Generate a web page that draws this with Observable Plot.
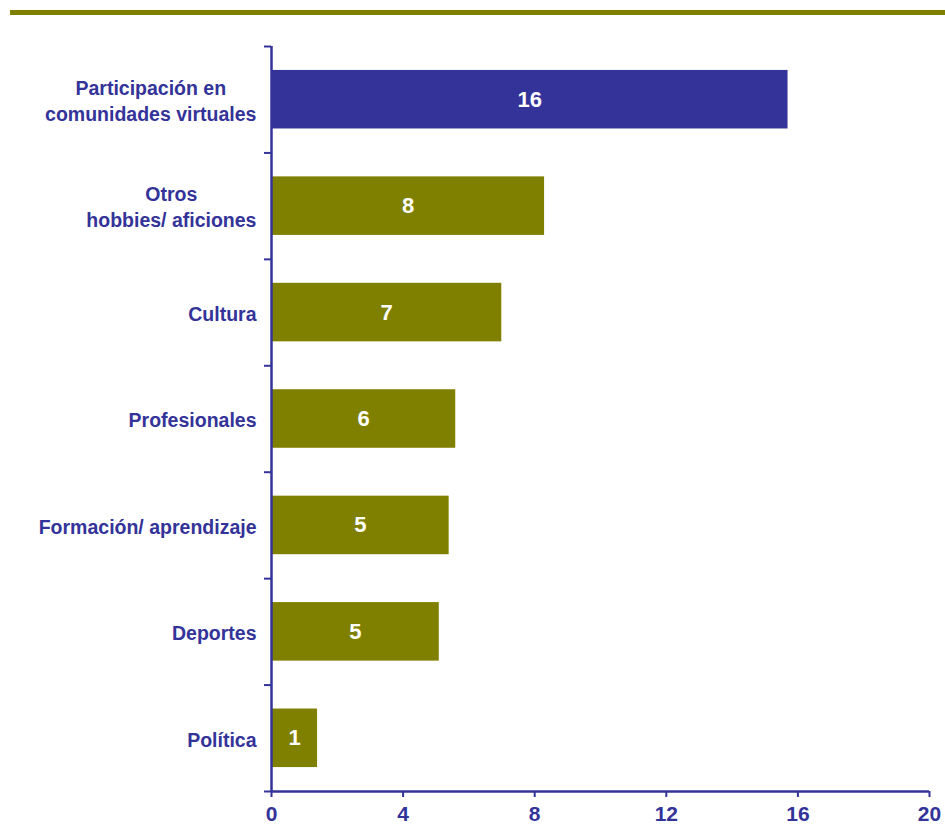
<!DOCTYPE html>
<html>
<head>
<meta charset="utf-8">
<script src="https://cdn.jsdelivr.net/npm/d3@7"></script>
<script src="https://cdn.jsdelivr.net/npm/@observablehq/plot@0.6"></script>
<style>
  html, body { margin: 0; padding: 0; background: #fff; }
  #wrap { position: relative; width: 945px; height: 829px; overflow: hidden; }
  #topline { position: absolute; top: 10px; left: 10px; width: 935px; height: 5px; background: #808000; }
  #chart { position: absolute; top: 0; left: 0; }
</style>
</head>
<body>
<div id="wrap"><div id="topline"></div><div id="chart"></div></div>
<script>
const categories = [
  "Participación en\ncomunidades virtuales",
  "Otros\nhobbies/ aficiones",
  "Cultura",
  "Profesionales",
  "Formación/ aprendizaje",
  "Deportes",
  "Política"
];
const values = [15.7, 8.3, 7.0, 5.6, 5.4, 5.1, 1.4];
const valueLabels = ["16", "8", "7", "6", "5", "5", "1"];
const groups = ["destacado", "resto", "resto", "resto", "resto", "resto", "resto"];
const xTicks = [0, 4, 8, 12, 16, 20];

const ink = "#333399";
const data = categories.map((c, i) => ({cat: c, i, value: values[i], label: valueLabels[i], group: groups[i]}));

const chart = Plot.plot({
  width: 945,
  height: 829,
  marginTop: 46,
  marginBottom: 38,
  marginLeft: 271,
  marginRight: 16,
  style: {fontFamily: "'Liberation Sans', Arial, sans-serif", fontWeight: "bold", color: ink, background: "transparent"},
  x: {domain: [0, 20]},
  y: {domain: [0, categories.length], reverse: true},
  color: {domain: ["destacado", "resto"], range: ["#333399", "#808000"]},
  marks: [
    Plot.rectX(data, {x1: 0, x2: "value", y1: d => d.i + 0.225, y2: d => d.i + 0.775, fill: "group"}),
    Plot.text(data, {x: d => d.value / 2, y: d => d.i + 0.5, text: "label", fill: "white", fontSize: 22, fontWeight: "bold"}),
    Plot.axisY({ticks: d3.range(0, categories.length + 1), tickSize: 7, tickFormat: () => "", stroke: ink, strokeWidth: 2, label: null}),
    Plot.axisY({ticks: data.map(d => d.i + 0.5), tickSize: 0, tickPadding: 15, tickFormat: v => categories[Math.round(v - 0.5)], fill: ink, fontSize: 19.5, fontWeight: "bold", lineHeight: 1.33, label: null}),
    Plot.axisX({ticks: xTicks, tickSize: 6, tickPadding: 9, tickFormat: d3.format("d"), stroke: ink, strokeWidth: 2, fill: ink, fontSize: 21, fontWeight: "bold", label: null}),
    Plot.ruleX([0], {stroke: ink, strokeWidth: 2.5}),
    Plot.ruleY([categories.length], {stroke: ink, strokeWidth: 2.5})
  ]
});
document.getElementById("chart").appendChild(chart);

// Center the lines of multi-line category labels relative to each other
chart.querySelectorAll("text").forEach(t => {
  const spans = t.querySelectorAll("tspan");
  if (spans.length > 1) {
    const w = t.getBBox().width;
    t.setAttribute("text-anchor", "middle");
    spans.forEach(s => s.setAttribute("x", -w / 2));
  }
});
</script>
</body>
</html>
